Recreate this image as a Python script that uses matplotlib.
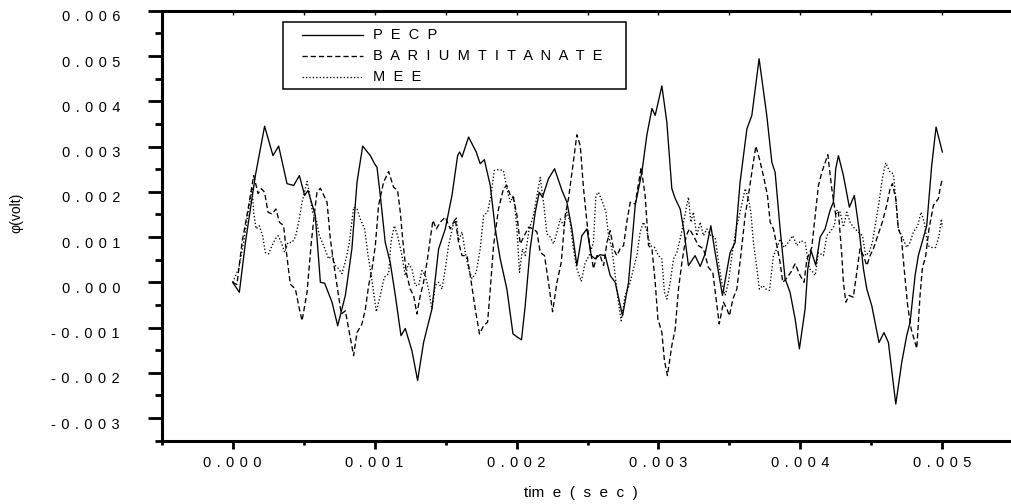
import numpy as np
import matplotlib
matplotlib.use("Agg")
import matplotlib.pyplot as plt
import matplotlib.transforms as mtransforms
from matplotlib.ticker import MultipleLocator, FuncFormatter
from matplotlib.lines import Line2D
from matplotlib.patches import Rectangle

# ---------------- data (time in ms, potential in mV) ----------------
pecp_ms = [0, 0.047, 0.090, 0.160, 0.225, 0.284, 0.324, 0.383, 0.430, 0.470, 0.507, 0.531, 0.582,
           0.618, 0.648, 0.700, 0.740, 0.794, 0.840, 0.876, 0.916, 0.970, 1.000, 1.017, 1.040, 1.075,
           1.110, 1.146, 1.186, 1.216, 1.263, 1.303, 1.345, 1.404, 1.451, 1.498, 1.545, 1.585, 1.599,
           1.616, 1.662, 1.716, 1.744, 1.773, 1.815, 1.850, 1.885, 1.932, 1.975, 2.010, 2.035, 2.061,
           2.096, 2.132, 2.160, 2.183, 2.225, 2.268, 2.320, 2.355, 2.390, 2.425, 2.460, 2.496, 2.526,
           2.554, 2.589, 2.625, 2.660, 2.695, 2.747, 2.789, 2.836, 2.883, 2.918, 2.954, 2.977, 3.024,
           3.059, 3.094, 3.118, 3.153, 3.181, 3.211, 3.258, 3.294, 3.329, 3.369, 3.399, 3.451, 3.505,
           3.540, 3.575, 3.623, 3.658, 3.709, 3.763, 3.799, 3.822, 3.857, 3.892, 3.927, 3.963, 3.993,
           4.033, 4.052, 4.075, 4.108, 4.139, 4.174, 4.209, 4.232, 4.249, 4.268, 4.303, 4.345, 4.380,
           4.413, 4.444, 4.468, 4.503, 4.526, 4.554, 4.589, 4.620, 4.672, 4.714, 4.749, 4.773, 4.808,
           4.831, 4.890, 4.925, 4.956, 5.000]
pecp_mv = [0, -0.22, 0.88, 2.36, 3.45, 2.80, 3.01, 2.18, 2.14, 2.36, 1.92, 2.03, 1.48,
           0.00, -0.02, -0.44, -0.96, -0.29, 0.74, 2.21, 3.01, 2.80, 2.62, 2.54, 1.92, 0.88,
           0.44, -0.29, -1.18, -1.02, -1.51, -2.17, -1.33, -0.59, 0.74, 1.18, 1.92, 2.80, 2.88,
           2.77, 3.21, 2.88, 2.62, 2.71, 2.14, 1.18, 0.52, -0.15, -1.14, -1.22, -1.27, -0.52,
           0.74, 1.55, 1.99, 1.88, 2.29, 2.51, 2.03, 1.77, 1.18, 0.37, 1.03, 1.18, 0.59,
           0.52, 0.61, 0.59, 0.15, 0.00, -0.74, 0.00, 1.70, 2.43, 3.25, 3.84, 3.69, 4.34,
           3.54, 2.07, 1.85, 1.62, 1.11, 0.37, 0.59, 0.35, 0.63, 1.25, 0.66, -0.29, 0.66,
           0.88, 2.21, 3.39, 3.69, 4.94, 3.69, 2.65, 2.43, 1.18, 0.08, -0.22, -0.81, -1.47,
           -0.59, 0.30, 0.70, 0.38, 1.00, 1.18, 1.59, 1.77, 2.51, 2.80, 2.36, 1.66, 1.92,
           1.18, 0.30, -0.15, -0.52, -0.88, -1.33, -1.11, -1.33, -2.69, -1.77, -1.18, -0.88, 0.15,
           0.59, 1.25, 2.58, 3.43, 2.88]

barium_ms = [0, 0.030, 0.066, 0.113, 0.148, 0.179, 0.202, 0.225, 0.249, 0.277, 0.305, 0.329, 0.359,
             0.376, 0.406, 0.442, 0.470, 0.489, 0.524, 0.554, 0.577, 0.594, 0.618, 0.665, 0.688, 0.711,
             0.735, 0.765, 0.794, 0.822, 0.852, 0.876, 0.911, 0.935, 0.958, 0.982, 1.005, 1.028, 1.063,
             1.099, 1.134, 1.162, 1.181, 1.200, 1.223, 1.251, 1.275, 1.298, 1.322, 1.345, 1.369, 1.392,
             1.411, 1.435, 1.463, 1.498, 1.533, 1.568, 1.592, 1.616, 1.651, 1.674, 1.709, 1.739, 1.768,
             1.796, 1.815, 1.838, 1.873, 1.908, 1.932, 1.956, 1.979, 2.003, 2.026, 2.050, 2.085, 2.120,
             2.144, 2.167, 2.197, 2.225, 2.254, 2.285, 2.315, 2.343, 2.366, 2.394, 2.425, 2.449, 2.472,
             2.496, 2.519, 2.542, 2.566, 2.589, 2.613, 2.637, 2.660, 2.683, 2.707, 2.730, 2.754, 2.777,
             2.801, 2.836, 2.878, 2.906, 2.930, 2.954, 2.977, 2.996, 3.024, 3.042, 3.063, 3.094, 3.118,
             3.141, 3.165, 3.195, 3.218, 3.246, 3.282, 3.317, 3.352, 3.383, 3.406, 3.428, 3.458, 3.482,
             3.500, 3.524, 3.552, 3.580, 3.611, 3.634, 3.665, 3.686, 3.711, 3.739, 3.768, 3.787, 3.810,
             3.834, 3.857, 3.876, 3.900, 3.932, 3.963, 3.998, 4.026, 4.045, 4.080, 4.104, 4.127, 4.151,
             4.193, 4.221, 4.249, 4.268, 4.292, 4.303, 4.320, 4.343, 4.373, 4.397, 4.420, 4.444, 4.468,
             4.491, 4.514, 4.545, 4.577, 4.608, 4.632, 4.648, 4.672, 4.690, 4.710, 4.731, 4.756, 4.780,
             4.820, 4.843, 4.859, 4.883, 4.906, 4.937, 4.972, 4.984, 5.000]
barium_mv = [0, -0.05, 0.88, 1.70, 2.36, 1.96, 2.07, 1.99, 1.55, 1.51, 1.62, 1.33, 1.25,
             0.74, -0.04, -0.15, -0.59, -0.85, -0.22, 0.88, 1.55, 1.99, 2.08, 1.77, 0.96, 0.44,
             -0.07, -0.70, -0.63, -1.11, -1.62, -1.11, -0.92, -0.59, -0.07, 0.30, 0.81, 1.70, 2.21,
             2.45, 2.10, 2.03, 1.55, 0.88, 0.22, -0.15, -0.29, -0.70, -0.29, 0.00, 0.44, 0.96,
             1.37, 1.18, 1.33, 1.44, 1.18, 1.40, 0.88, 0.59, 0.59, 0.15, -0.59, -1.14, -0.96,
             -0.88, -0.15, 0.81, 1.62, 2.07, 2.14, 1.92, 1.85, 1.48, 0.85, 1.00, 1.22, 1.18,
             1.11, 0.66, 0.59, 0.00, -0.65, 0.00, 0.44, 1.48, 1.85, 2.51, 3.26, 3.02, 2.07,
             1.33, 0.74, 0.30, 0.59, 0.59, 0.37, 0.88, 1.14, 0.74, 0.59, 0.74, 0.81, 1.33,
             1.77, 1.73, 2.54, 1.92, 0.81, 0.74, 0.00, -0.81, -1.11, -1.73, -2.06, -1.40, -1.03,
             -0.15, 0.44, 1.03, 1.18, 1.03, 0.81, 0.74, 0.33, 0.22, -0.37, -0.92, -0.44, -0.59,
             -0.74, -0.37, -0.15, 0.59, 1.48, 1.92, 2.58, 3.01, 2.73, 2.36, 1.92, 1.33, 1.18,
             0.81, 0.44, 0.00, 0.08, 0.22, 0.41, 0.15, 0.00, 0.50, 0.77, 1.48, 2.14, 2.43,
             2.82, 2.07, 1.48, 1.55, 0.59, 0.00, -0.44, -0.29, -0.33, 0.22, 0.74, 0.59, 0.37,
             0.59, 0.74, 1.03, 1.33, 1.70, 2.07, 2.18, 1.85, 1.18, 1.03, 0.30, -0.52, -1.03,
             -1.46, -0.29, 0.30, 0.59, 1.18, 1.70, 1.85, 2.07, 2.29]

mee_ms = [0, 0.042, 0.077, 0.113, 0.137, 0.148, 0.165, 0.188, 0.211, 0.230, 0.254, 0.277, 0.301,
          0.320, 0.343, 0.366, 0.390, 0.418, 0.442, 0.465, 0.489, 0.524, 0.540, 0.563, 0.587, 0.611,
          0.641, 0.676, 0.700, 0.723, 0.746, 0.770, 0.799, 0.822, 0.852, 0.876, 0.899, 0.930, 0.954,
          0.977, 0.992, 1.012, 1.040, 1.068, 1.099, 1.115, 1.139, 1.162, 1.193, 1.216, 1.239, 1.263,
          1.287, 1.310, 1.334, 1.357, 1.380, 1.404, 1.428, 1.451, 1.475, 1.498, 1.521, 1.552, 1.575,
          1.592, 1.616, 1.639, 1.662, 1.686, 1.716, 1.744, 1.768, 1.796, 1.820, 1.843, 1.873, 1.908,
          1.932, 1.956, 1.979, 2.003, 2.021, 2.042, 2.061, 2.089, 2.120, 2.144, 2.167, 2.190, 2.214,
          2.237, 2.261, 2.285, 2.308, 2.332, 2.355, 2.378, 2.401, 2.425, 2.456, 2.484, 2.512, 2.542,
          2.559, 2.577, 2.606, 2.630, 2.648, 2.672, 2.695, 2.718, 2.737, 2.765, 2.794, 2.824, 2.848,
          2.871, 2.894, 2.918, 2.942, 2.972, 3.000, 3.024, 3.042, 3.059, 3.083, 3.106, 3.130, 3.158,
          3.181, 3.211, 3.228, 3.246, 3.270, 3.294, 3.317, 3.341, 3.369, 3.399, 3.423, 3.446, 3.470,
          3.493, 3.517, 3.547, 3.575, 3.611, 3.634, 3.651, 3.669, 3.688, 3.711, 3.735, 3.758, 3.782,
          3.810, 3.834, 3.857, 3.885, 3.915, 3.946, 3.975, 4.003, 4.033, 4.063, 4.080, 4.104, 4.127,
          4.162, 4.186, 4.216, 4.239, 4.256, 4.280, 4.303, 4.327, 4.350, 4.373, 4.408, 4.437, 4.460,
          4.484, 4.507, 4.531, 4.554, 4.577, 4.601, 4.632, 4.655, 4.672, 4.690, 4.718, 4.749, 4.773,
          4.796, 4.827, 4.850, 4.873, 4.897, 4.925, 4.953, 4.977, 4.993, 5.000]
mee_mv = [0, 0.30, 0.88, 1.62, 2.07, 1.55, 1.18, 1.25, 1.03, 0.66, 0.63, 0.81, 0.96,
          1.03, 0.88, 0.66, 0.88, 0.88, 1.00, 1.33, 1.77, 2.23, 1.99, 1.55, 1.40, 1.03,
          0.81, 0.52, 0.59, 0.37, 0.30, 0.19, 0.52, 0.88, 1.66, 1.62, 1.40, 1.18, 0.59,
          0.15, -0.20, -0.65, -0.29, 0.11, 0.19, 0.88, 1.25, 1.03, 0.59, 0.15, 0.41, 0.30,
          -0.07, -0.07, 0.26, 0.15, -0.15, -0.59, -0.07, 0.00, -0.15, 0.30, 0.81, 1.25, 1.44,
          0.92, 1.11, 0.66, 0.30, 0.08, 0.22, 0.74, 1.48, 1.55, 1.92, 2.47, 2.49, 2.47,
          2.07, 1.77, 1.92, 1.18, 0.22, 0.74, 0.59, 1.18, 1.48, 1.92, 2.32, 1.77, 1.07,
          1.00, 0.85, 1.11, 1.40, 1.25, 1.55, 1.33, 0.74, 0.30, 0.02, 0.44, 0.59, 0.88,
          1.92, 1.99, 1.77, 1.55, 1.03, 0.74, 0.15, -0.44, -0.85, -0.29, -0.07, 0.30, 0.59,
          1.11, 1.33, 1.14, 0.81, 0.77, 0.59, 0.52, -0.22, -0.37, 0.00, 0.52, 0.66, 1.03,
          1.40, 1.88, 1.33, 1.55, 1.03, 1.33, 1.03, 1.18, 1.03, 1.00, 0.44, 0.00, -0.29,
          0.00, 0.59, 1.18, 1.55, 2.07, 1.85, 1.55, 0.88, 0.44, -0.15, -0.07, -0.15, -0.18,
          0.59, 0.74, 0.96, 0.77, 0.88, 1.03, 0.81, 0.92, 0.88, 0.30, 0.26, 0.15, 0.66,
          0.59, 1.03, 1.14, 1.25, 1.59, 1.55, 1.22, 1.55, 1.33, 1.22, 1.11, 1.03, 0.59,
          0.66, 0.88, 1.33, 1.77, 2.29, 2.64, 2.43, 2.40, 1.85, 1.18, 1.00, 0.77, 0.88,
          1.11, 1.25, 1.55, 1.33, 0.81, 0.77, 0.77, 1.03, 1.40, 1.22]

labels = ["PECP", "BARIUMTITANATE", "MEE"]
x_label = "tim e(sec)"
y_label = "\u03c6(volt)"

# ---------------- figure ----------------
W, H = 1011, 504
fig = plt.figure(figsize=(W / 100, H / 100), dpi=100)
FONT = ["Liberation Sans", "DejaVu Sans"]
plt.rcParams["font.family"] = FONT


def fx(px):
    return px / W


def fy(py):
    return 1 - py / H


ax_left, ax_right_px, ax_top, ax_bot = 161.7, 1013.3, 10.8, 440.7
ax = fig.add_axes([fx(ax_left), fy(ax_bot), (ax_right_px - ax_left) / W, (ax_bot - ax_top) / H])

t_pecp = np.array(pecp_ms) * 1e-3
t_bar = np.array(barium_ms) * 1e-3
t_mee = np.array(mee_ms) * 1e-3
v_pecp = np.array(pecp_mv) * 1e-3
v_bar = np.array(barium_mv) * 1e-3
v_mee = np.array(mee_mv) * 1e-3

styles = ["-", (0, (4.0, 2.2)), (0, (1.0, 1.6))]
lw = 0.95
ax.plot(t_pecp, v_pecp, color="black", lw=lw, ls=styles[0])
ax.plot(t_bar, v_bar, color="black", lw=lw, ls=styles[1])
ax.plot(t_mee, v_mee, color="black", lw=lw, ls=styles[2])

ax.set_xlim(-0.0005, 0.0055)
ax.set_ylim(-0.0035, 0.006)

for s in ["left", "bottom", "top"]:
    ax.spines[s].set_linewidth(2.2)
ax.spines["right"].set_visible(False)

ax.xaxis.set_major_locator(MultipleLocator(0.001))
ax.xaxis.set_minor_locator(MultipleLocator(0.0005))
ax.yaxis.set_major_locator(MultipleLocator(0.001))
ax.yaxis.set_minor_locator(MultipleLocator(0.0005))


def spaced(v, pos=None):
    s = f"{v:.3f}"
    if s == "-0.000":
        s = "0.000"
    return " \u200a".join(s)


ax.xaxis.set_major_formatter(FuncFormatter(spaced))
ax.yaxis.set_major_formatter(FuncFormatter(spaced))

ax.tick_params(axis="y", which="major", direction="out", length=10, width=2.0, pad=20, labelsize=10.5)
ax.tick_params(axis="y", which="minor", direction="out", length=5, width=2.0)
ax.tick_params(axis="x", which="major", direction="out", length=6, width=2.0, pad=5, labelsize=10.5,
               top=True)
ax.tick_params(axis="x", which="minor", direction="out", length=3, width=2.0, top=True)
ax.tick_params(axis="x", which="both", labeltop=False)
# top ticks point inward and are short
for tick in ax.xaxis.get_major_ticks() + ax.xaxis.get_minor_ticks():
    tick.tick2line.set_markersize(3)
    tick.tick2line.set_markeredgewidth(1.0)
    tick.tick2line.set_marker(3)  # TICKDOWN

offset = mtransforms.ScaledTranslation(0, -0.05, fig.dpi_scale_trans)
for lbl in ax.yaxis.get_majorticklabels():
    lbl.set_transform(lbl.get_transform() + offset)

# axis labels
fig.text(fx(581), fy(493), "tim  e  (  s  e  c  )", ha="center", va="center", fontsize=11)
fig.text(fx(16), fy(213), y_label, ha="center", va="center", rotation=90, fontsize=10)

# ---------------- legend (drawn as a framed box) ----------------
box = Rectangle((fx(283), fy(89)), fx(626) - fx(283), fy(22) - fy(89), transform=fig.transFigure,
                fill=False, edgecolor="black", lw=1.1)
fig.add_artist(box)
rows_y = [35, 56, 77]
for st, lab, yy in zip(styles, labels, rows_y):
    fig.add_artist(Line2D([fx(302), fx(363)], [fy(yy), fy(yy)], transform=fig.transFigure,
                          color="black", lw=lw, ls=st))
    fig.text(fx(372.7), fy(yy), "  ".join(lab), ha="left", va="center", fontsize=10.5)

fig.savefig("out.png", dpi=100)
